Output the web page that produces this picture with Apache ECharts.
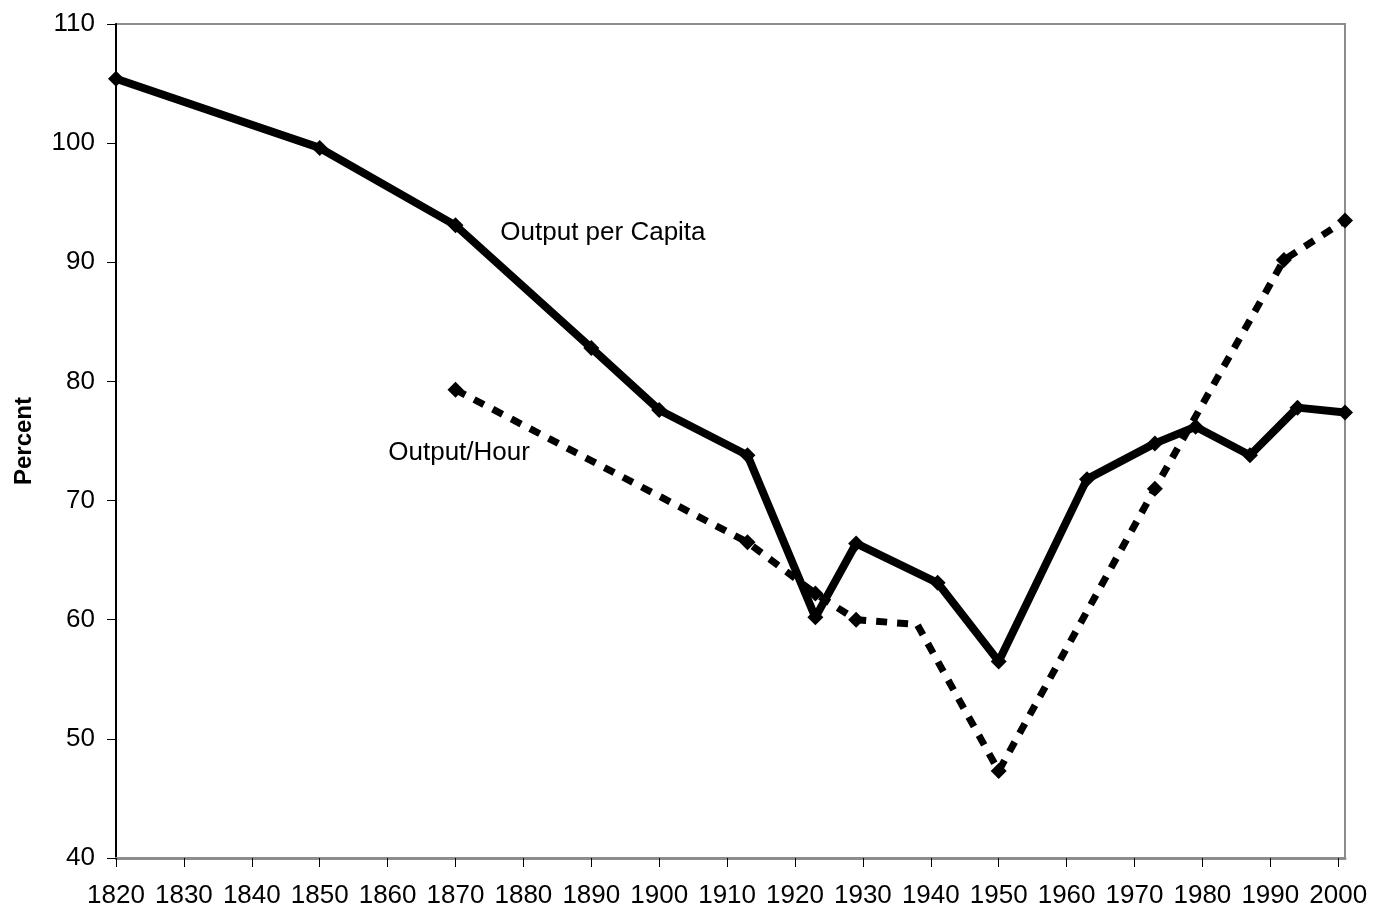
<!DOCTYPE html>
<html>
<head>
<meta charset="utf-8">
<script src="https://cdn.jsdelivr.net/npm/echarts@6/dist/echarts.min.js"></script>
<style>
  html, body { margin: 0; padding: 0; background: #fff; }
  #main { width: 1374px; height: 911px; }
</style>
</head>
<body>
<div id="main"></div>
<script>
// x ticks
const yearTicks = [1820, 1830, 1840, 1850, 1860, 1870, 1880, 1890, 1900, 1910,
  1920, 1930, 1940, 1950, 1960, 1970, 1980, 1990, 2000];

// output per capita (solid)
const capitaYears = [1820, 1850, 1870, 1890, 1900, 1913, 1923, 1929, 1941, 1950, 1963, 1973, 1979, 1987, 1994, 2001];
const capitaValues = [105.4, 99.6, 93.1, 82.8, 77.6, 73.8, 60.2, 66.4, 63.1, 56.5, 71.8, 74.8, 76.2, 73.8, 77.8, 77.4];

// output per hour (dashed)
const hourYears = [1870, 1913, 1923, 1929, 1938, 1950, 1973, 1992, 2001];
const hourValues = [79.3, 66.5, 62.2, 60.0, 59.6, 47.3, 71.0, 90.2, 93.5];

const FONT = "Liberation Sans, Arial, sans-serif";

const chart = echarts.init(document.getElementById("main"));

const capitaData = capitaYears.map((y, i) => [y, capitaValues[i]]);
const hourData = hourYears.map((y, i) => {
  // 1938 bend has no visible marker
  if (y === 1938) return { value: [y, hourValues[i]], symbol: "none" };
  return [y, hourValues[i]];
});

const textLabel = {
  show: true,
  position: "right",
  distance: 0,
  color: "#000",
  fontFamily: FONT,
  fontSize: 26,
  formatter: "{c}",
};

let option = {
  animation: false,
  backgroundColor: "#fff",
  grid: {
    left: 116,
    right: 29,
    top: 24,
    bottom: 53,
    show: true,
    borderColor: "#8c8c8c",
    borderWidth: 2,
  },
  xAxis: {
    type: "value",
    min: 1820,
    max: 2001,
    interval: 10,
    splitLine: { show: false },
    axisLine: { show: true, lineStyle: { color: "#8c8c8c", width: 3 } },
    axisTick: {
      show: true,
      length: 9,
      customValues: yearTicks,
      lineStyle: { color: "#000", width: 1 },
    },
    axisLabel: {
      customValues: yearTicks,
      color: "#000",
      fontFamily: FONT,
      fontSize: 26,
      margin: 25,
      formatter: (v) => String(v),
    },
  },
  yAxis: {
    type: "value",
    min: 40,
    max: 110,
    interval: 10,
    name: "Percent",
    nameLocation: "middle",
    nameGap: 80,
    nameTextStyle: { color: "#000", fontFamily: FONT, fontSize: 24, fontWeight: "bold" },
    splitLine: { show: false },
    axisLine: { show: true, lineStyle: { color: "#000", width: 2 } },
    axisTick: { show: true, length: 9, lineStyle: { color: "#000", width: 1 } },
    axisLabel: { color: "#000", fontFamily: FONT, fontSize: 26, margin: 21 },
  },
  series: [
    {
      name: "Output per Capita",
      type: "line",
      data: capitaData,
      symbol: "diamond",
      symbolSize: 16,
      itemStyle: { color: "#000" },
      lineStyle: { color: "#000", width: 8, type: "solid" },
      z: 3,
      markPoint: {
        symbol: "circle",
        symbolSize: 0,
        data: [{ coord: [1876.6, 92.5], value: "Output per Capita" }],
        label: textLabel,
      },
    },
    {
      name: "Output/Hour",
      type: "line",
      data: hourData,
      symbol: "diamond",
      symbolSize: 16,
      itemStyle: { color: "#000" },
      lineStyle: { color: "#000", width: 7, type: [11, 10] },
      z: 2,
      markPoint: {
        symbol: "circle",
        symbolSize: 0,
        data: [{ coord: [1860.1, 74.0], value: "Output/Hour" }],
        label: textLabel,
      },
    },
  ],
};

chart.setOption(option);
</script>
</body>
</html>
